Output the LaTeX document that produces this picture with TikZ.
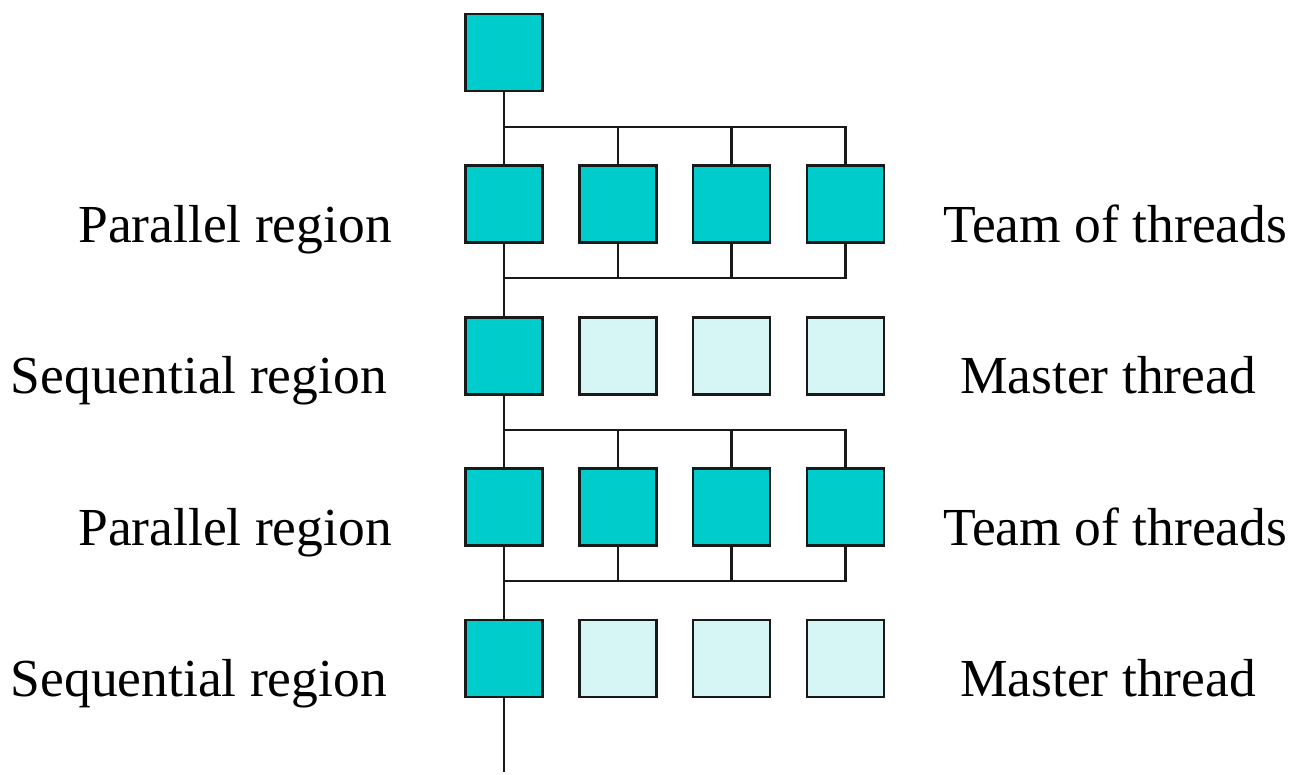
\documentclass[tikz,border=0pt]{standalone}
\usepackage{fontspec}
\setmainfont{Liberation Serif}
\definecolor{thr}{RGB}{0,204,204}
\definecolor{idle}{RGB}{214,245,245}
\begin{document}
\begin{tikzpicture}[x=1pt,y=-1pt,
  thread/.style={draw=black!90, line width=2.4pt, fill=thr, minimum size=77pt, inner sep=0pt, outer sep=0pt},
  idlethread/.style={thread, fill=idle},
  conn/.style={draw=black!90, line width=2.4pt},
  lbl/.style={font=\fontsize{53.5}{60}\selectfont, inner sep=0pt}]
\useasboundingbox (0,0) rectangle (1295,774);
% columns x: 504, 618, 731.5, 845.5 ; rows y: 52.5, 204, 356, 507, 658.5
\node[thread] (top) at (504,52.5) {};
\foreach \r/\y in {1/204, 3/507} {
  \node[thread] (r\r c1) at (504,\y) {};
  \node[thread] (r\r c2) at (618,\y) {};
  \node[thread] (r\r c3) at (731.5,\y) {};
  \node[thread] (r\r c4) at (845.5,\y) {};
}
\foreach \r/\y in {2/356, 4/658.5} {
  \node[thread] (r\r c1) at (504,\y) {};
  \node[idlethread] (r\r c2) at (618,\y) {};
  \node[idlethread] (r\r c3) at (731.5,\y) {};
  \node[idlethread] (r\r c4) at (845.5,\y) {};
}
\coordinate (f1) at (504,127);
\coordinate (j1) at (504,278);
\coordinate (f3) at (504,430);
\coordinate (j3) at (504,581);
\coordinate (bot) at (504,772);
% main line
\draw[conn] (top) -- (r1c1);
\draw[conn] (r1c1) -- (r2c1);
\draw[conn] (r2c1) -- (r3c1);
\draw[conn] (r3c1) -- (r4c1);
\draw[conn] (r4c1) -- (bot);
% forks and joins
\foreach \r/\f/\j in {1/f1/j1, 3/f3/j3} {
  \draw[conn] (\f) -| (r\r c4.north);
  \draw[conn] (r\r c2.north |- \f) -- (r\r c2.north);
  \draw[conn] (r\r c3.north |- \f) -- (r\r c3.north);
  \draw[conn] (\j) -| (r\r c4.south);
  \draw[conn] (r\r c2.south |- \j) -- (r\r c2.south);
  \draw[conn] (r\r c3.south |- \j) -- (r\r c3.south);
}
% labels
\node[lbl, anchor=base east] (lp1) at (392,242) {Parallel region};
\node[lbl, anchor=base east] (ls2) at (387,393) {Sequential region};
\node[lbl, anchor=base east] (lp3) at (392,545) {Parallel region};
\node[lbl, anchor=base east] (ls4) at (387,696) {Sequential region};
\node[lbl, anchor=base west] (rt1) at (943,242) {Team of threads};
\node[lbl, anchor=base west] (rm2) at (960,393) {Master thread};
\node[lbl, anchor=base west] (rt3) at (943,545) {Team of threads};
\node[lbl, anchor=base west] (rm4) at (960,696) {Master thread};
\end{tikzpicture}
\end{document}
